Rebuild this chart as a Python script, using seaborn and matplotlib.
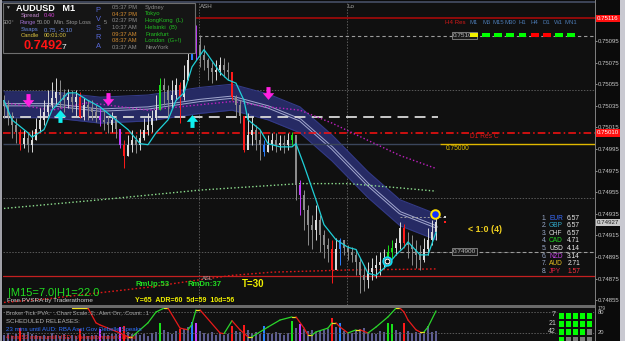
import numpy as np
import pandas as pd
import matplotlib
matplotlib.use("Agg")
import matplotlib.pyplot as plt
import matplotlib.transforms as mtransforms
from matplotlib.patches import Rectangle
from matplotlib.path import Path
from matplotlib.colors import ListedColormap
import seaborn as sns

# ---------------- data ----------------
high = [0.75045, 0.75040, 0.75029, 0.75024, 0.75014, 0.75013, 0.75011, 0.75013, 0.75024, 0.75033,
        0.75040, 0.75050, 0.75057, 0.75061, 0.75059, 0.75051, 0.75051, 0.75050, 0.75050, 0.75048,
        0.75042, 0.75040, 0.75040, 0.75036, 0.75033, 0.75031, 0.75026, 0.75029, 0.75026, 0.75014,
        0.75003, 0.75008, 0.75013, 0.75008, 0.75014, 0.75024, 0.75028, 0.75031, 0.75045, 0.75061,
        0.75061, 0.75054, 0.75059, 0.75061, 0.75057, 0.75073, 0.75091, 0.75114, 0.75110, 0.75101,
        0.75091, 0.75079, 0.75076, 0.75077, 0.75080, 0.75079, 0.75076, 0.75064, 0.75045, 0.75040,
        0.75022, 0.75028, 0.75026, 0.75017, 0.75013, 0.75003, 0.75008, 0.75010, 0.75010, 0.75008,
        0.75008, 0.75010, 0.75011, 0.75003, 0.74966, 0.74957, 0.74943, 0.74934, 0.74943, 0.74934,
        0.74920, 0.74913, 0.74911, 0.74913, 0.74913, 0.74911, 0.74906, 0.74904, 0.74902, 0.74894,
        0.74888, 0.74890, 0.74894, 0.74897, 0.74900, 0.74902, 0.74906, 0.74911, 0.74913, 0.74927,
        0.74926, 0.74918, 0.74915, 0.74911, 0.74906, 0.74913, 0.74922, 0.74929, 0.74932]
low = [0.75024, 0.75017, 0.75005, 0.75001, 0.74994, 0.74996, 0.74992, 0.74992, 0.75003, 0.75011,
       0.75017, 0.75026, 0.75033, 0.75037, 0.75033, 0.75029, 0.75033, 0.75029, 0.75026, 0.75024,
       0.75022, 0.75022, 0.75022, 0.75020, 0.75016, 0.75013, 0.75010, 0.75011, 0.75005, 0.74996,
       0.74977, 0.74989, 0.74992, 0.74991, 0.74994, 0.75003, 0.75008, 0.75011, 0.75022, 0.75031,
       0.75036, 0.75026, 0.75033, 0.75040, 0.75019, 0.75040, 0.75059, 0.75087, 0.75077, 0.75071,
       0.75068, 0.75059, 0.75056, 0.75059, 0.75064, 0.75062, 0.75059, 0.75040, 0.75026, 0.75019,
       0.74992, 0.74999, 0.74999, 0.74994, 0.74985, 0.74989, 0.74992, 0.74994, 0.74992, 0.74994,
       0.74991, 0.74994, 0.74999, 0.74948, 0.74934, 0.74920, 0.74906, 0.74902, 0.74911, 0.74900,
       0.74894, 0.74890, 0.74871, 0.74885, 0.74888, 0.74897, 0.74892, 0.74890, 0.74878, 0.74862,
       0.74864, 0.74866, 0.74874, 0.74876, 0.74878, 0.74885, 0.74890, 0.74894, 0.74897, 0.74902,
       0.74903, 0.74894, 0.74888, 0.74885, 0.74883, 0.74890, 0.74897, 0.74906, 0.74911]
close = [0.75036, 0.75026, 0.75017, 0.75011, 0.75000, 0.75005, 0.74999, 0.75003, 0.75014, 0.75022,
         0.75029, 0.75036, 0.75042, 0.75048, 0.75045, 0.75040, 0.75043, 0.75039, 0.75043, 0.75025,
         0.75036, 0.75033, 0.75029, 0.75026, 0.75022, 0.75020, 0.75017, 0.75022, 0.75014, 0.74999,
         0.74989, 0.74999, 0.75003, 0.74999, 0.75005, 0.75013, 0.75017, 0.75024, 0.75031, 0.75054,
         0.75050, 0.75040, 0.75045, 0.75054, 0.75043, 0.75059, 0.75077, 0.75101, 0.75091, 0.75082,
         0.75077, 0.75070, 0.75066, 0.75068, 0.75073, 0.75068, 0.75066, 0.75043, 0.75036, 0.75026,
         0.74994, 0.75008, 0.75013, 0.75003, 0.74999, 0.74992, 0.74999, 0.75003, 0.74999, 0.75001,
         0.74999, 0.75003, 0.75008, 0.74962, 0.74952, 0.74939, 0.74925, 0.74920, 0.74929, 0.74915,
         0.74906, 0.74902, 0.74883, 0.74902, 0.74911, 0.74903, 0.74900, 0.74897, 0.74890, 0.74878,
         0.74874, 0.74881, 0.74885, 0.74888, 0.74890, 0.74894, 0.74900, 0.74903, 0.74908, 0.74922,
         0.74908, 0.74906, 0.74902, 0.74897, 0.74892, 0.74902, 0.74911, 0.74918, 0.74927]
first_open = 0.75040

special_idx = [4, 19, 24, 29, 30, 39, 44, 47, 48, 57, 60, 65, 72, 74, 82, 84, 96, 97, 100]
special_kind = ["red", "red", "magenta", "magenta", "red", "green", "red", "blue", "magenta", "red",
                "red", "blue", "green", "magenta", "red", "blue", "green", "green", "red"]

volume = [40, 55, 35, 45, 85, 50, 60, 45, 38, 30,
          42, 35, 50, 38, 30, 45, 28, 40, 35, 80,
          45, 30, 38, 42, 75, 50, 36, 44, 48, 90,
          95, 60, 45, 52, 40, 48, 35, 55, 60, 120,
          70, 58, 45, 62, 80, 75, 90, 125, 120, 65,
          55, 48, 60, 42, 50, 38, 45, 100, 62, 58,
          105, 70, 55, 60, 48, 95, 52, 45, 58, 50,
          42, 55, 130, 85, 110, 75, 62, 70, 58, 65,
          72, 80, 150, 90, 120, 68, 60, 55, 70, 75,
          82, 60, 55, 48, 62, 58, 118, 110, 70, 60,
          118, 65, 55, 60, 50, 48, 95, 58, 62]

fast_ma_idx = [0, 2, 6, 7, 10, 12, 16, 18, 21, 24, 27, 31, 34, 36, 38, 41, 43, 45, 47, 50, 51, 54, 56,
               58, 60, 61, 64, 66, 69, 72, 73, 75, 78, 80, 83, 86, 88, 91, 93, 96, 98, 100, 101, 104, 106, 108]
fast_ma = [0.75040, 0.75022, 0.75010, 0.75006, 0.75013, 0.75031, 0.75047, 0.75047, 0.75040, 0.75034,
           0.75025, 0.75013, 0.75000, 0.74999, 0.75010, 0.75022, 0.75040, 0.75047, 0.75071, 0.75087,
           0.75082, 0.75066, 0.75059, 0.75056, 0.75040, 0.75022, 0.75013, 0.75000, 0.74997, 0.74997,
           0.75000, 0.74980, 0.74948, 0.74925, 0.74911, 0.74904, 0.74902, 0.74880, 0.74878, 0.74888,
           0.74897, 0.74904, 0.74909, 0.74897, 0.74897, 0.74918]

band_idx = [0, 12, 24, 36, 49, 57, 66, 74, 82, 91, 99, 108]
band_mid = [0.75036, 0.75036, 0.75031, 0.75033, 0.75040, 0.75043, 0.75034, 0.75022, 0.74996, 0.74962, 0.74936, 0.74923]
band_upper = [0.75048, 0.75048, 0.75043, 0.75045, 0.75052, 0.75055, 0.75046, 0.75034, 0.75008, 0.74974, 0.74948, 0.74935]
band_lower = [0.75024, 0.75024, 0.75019, 0.75021, 0.75028, 0.75031, 0.75022, 0.75010, 0.74984, 0.74950, 0.74924, 0.74911]

slow_ma_idx = [0, 12, 21, 36, 49, 57, 66, 74, 82, 91, 99, 108]
slow_ma = [0.75038, 0.75031, 0.75038, 0.75031, 0.75036, 0.75039, 0.75034, 0.75031, 0.75019, 0.75003, 0.74989, 0.74977]
trend_ma_idx = [0, 24, 49, 74, 86, 99, 108]
trend_ma = [0.74940, 0.74948, 0.74957, 0.74963, 0.74963, 0.74959, 0.74956]
asl_idx = [0, 10, 24, 36, 49, 57, 67, 86, 108]
asl_line = [0.74853, 0.74856, 0.74862, 0.74867, 0.74874, 0.74878, 0.74881, 0.74883, 0.74884]

osc_idx = [17, 21, 23, 24, 29, 31, 32, 36, 38, 40, 41, 44, 46, 47, 48, 49, 54, 55, 57, 59, 61, 62,
           66, 69, 72, 73, 75, 76, 77, 78, 81, 82, 83, 84, 86, 88, 89, 91, 93, 96, 98, 99, 100, 101,
           103, 104, 105, 106, 108]
osc_val = [91, 91, 49, 43, 20, 9, 9, 49, 80, 91, 91, 34, 29, 45, 86, 86, 20, 18, 55, 29, 9, 9,
           37, 57, 66, 66, 34, 14, 14, 23, 34, 49, 49, 37, 20, 29, 29, 20, 37, 66, 91, 91, 80, 57,
           29, 23, 23, 37, 83]

h4_res = 0.75116
round_hi = 0.75100
mid_dash = 0.75025
d1_res = 0.75010
round_mid = 0.75000
round_lo = 0.74900
support_line = 0.74877
last_high = 0.74932
bid = 0.74927
price_ticks = [0.75095, 0.75075, 0.75055, 0.75035, 0.75015, 0.74995, 0.74975, 0.74955,
               0.74935, 0.74915, 0.74895, 0.74875, 0.74855]
grid_prices = [0.75050, 0.74950]
session_idx = [48.75, 85.75]

down_arrow_idx = [6, 26, 66]
down_arrow_price = [0.75040, 0.75041, 0.75047]
up_arrow_idx = [14, 47]
up_arrow_price = [0.75026, 0.75021]
hi_dot = (107.75, 0.74935)
lo_dot = (95.75, 0.74891)

tf_labels = ["M1", "M5", "M15", "M30", "H1", "H4", "D1", "W1", "MN1"]
tf_state = ["flat", "up", "up", "up", "up", "down", "down", "up", "up"]
currencies = ["EUR", "GBP", "CHF", "CAD", "USD", "NZD", "AUD", "JPY"]
strength = [6.57, 6.57, 6.57, 4.71, 4.14, 3.14, 2.71, 1.57]
session_times = ["05:37 PM", "04:37 PM", "02:37 PM", "10:37 AM", "09:37 AM", "08:37 AM", "03:37 AM"]
session_cities = ["Sydney", "Tokyo", "HongKong  (L)", "Helsinki  (B)", "Frankfurt", "London  (G+!)", "NewYork"]
session_open = [False, True, True, True, True, True, False]
pva_periods = ["7", "21", "42"]
pva_grid = [[1, 1, 1, 1, 1], [1, 1, 1, 1, 1], [1, 1, 1, 1, 0], [1, 0, 0, 0, 0]]

# ---------------- styling ----------------
W, H = 625, 341
BG = "#101010"
KIND_COL = {"red": "#ff1a1a", "green": "#19e019", "blue": "#2a7fff", "magenta": "#c23cff"}

sns.set_theme(style="dark", rc={"axes.facecolor": BG, "figure.facecolor": "#0b0b0b"})
plt.rcParams["font.family"] = ["Liberation Sans", "DejaVu Sans"]

fig = plt.figure(figsize=(W / 100, H / 100), dpi=100, facecolor="#0b0b0b")


def T(x, y, s, color, size, weight="normal", ha="left", **kw):
    fig.text(x / W, 1 - y / H, s, color=color, fontsize=size, fontweight=weight,
             ha=ha, va="center", zorder=8, **kw)


def frect(x0, y0, x1, y1, fc, ec="none", lw=0, z=4):
    fig.add_artist(Rectangle((x0 / W, 1 - y1 / H), (x1 - x0) / W, (y1 - y0) / H,
                             transform=fig.transFigure, facecolor=fc, edgecolor=ec, lw=lw, zorder=z))


XL = (-0.25, 147.75)

# ---------------- main price panel ----------------
ax = fig.add_axes([3 / W, 1 - 305 / H, 592 / W, 302 / H])
ax.set_facecolor(BG)
ax.set_xlim(*XL)
ax.set_ylim(0.748506, 0.751302)
for s in ax.spines.values():
    s.set_visible(False)

n = len(close)
df = pd.DataFrame({"i": np.arange(n), "high": high, "low": low, "close": close,
                   "open": [first_open] + close[:-1]})
df["kind"] = "norm"
df.loc[special_idx, "kind"] = special_kind
df["col"] = np.where(df["close"] >= df["open"], "#dcdcdc", "#8c8c8c")
for k, c in KIND_COL.items():
    df.loc[df["kind"] == k, "col"] = c

# grid / session lines
for gp in grid_prices + [round_lo]:
    ax.axhline(gp, color="#5a5a5a", lw=0.7, ls=(0, (1.5, 1.5)), zorder=1)
for si in session_idx:
    ax.axvline(si, color="#5a5a5a", lw=0.7, ls=(0, (1.5, 1.5)), zorder=1)

# band
ax.fill_between(band_idx, band_lower, band_upper, color="#262a64", lw=0, zorder=2)
ax.plot(band_idx, band_upper, color="#333a86", lw=0.8, zorder=2)
ax.plot(band_idx, band_lower, color="#333a86", lw=0.8, zorder=2)
ax.plot(band_idx, band_mid, color="#a3a8cf", lw=2.3, zorder=2.1)
ax.plot(band_idx, band_mid, color="#262a64", lw=0.9, zorder=2.2)

# horizontal levels
ax.axhline(h4_res, color="#9a0a0a", lw=1.3, zorder=3)
ax.axhline(round_hi, color="#9c9c9c", lw=0.8, ls=(0, (3, 2.5)), zorder=3)
ax.hlines(mid_dash, XL[0], 108.5, color="#d8d8d8", lw=1.3, ls=(0, (6, 3.5)), zorder=3)
ax.axhline(d1_res, color="#ff1010", lw=1.1, ls=(0, (5, 2, 1, 2)), zorder=3)
ax.hlines(round_mid, XL[0], 109, color="#3b465c", lw=1.0, zorder=3)
ax.hlines(round_mid, 109, XL[1], color="#e0b800", lw=1.0, zorder=3)
ax.axhline(support_line, color="#c42020", lw=0.9, zorder=3)
ax.hlines(round_lo, 99, XL[1], color="#9c9c9c", lw=0.8, ls=(0, (3, 2.5)), zorder=3)
ax.hlines(last_high, 99, 110.25, color="#9c9c9c", lw=0.7, ls=(0, (2, 2)), zorder=3)

sns.lineplot(x=slow_ma_idx, y=slow_ma, ax=ax, color="#c020c0", lw=1.0, ls=(0, (1, 1.6)), zorder=3,
             estimator=None, sort=False)
sns.lineplot(x=trend_ma_idx, y=trend_ma, ax=ax, color="#8fe08f", lw=1.0, ls=(0, (1, 1.6)), zorder=3,
             estimator=None, sort=False)
sns.lineplot(x=asl_idx, y=asl_line, ax=ax, color="#e01818", lw=1.0, ls=(0, (1.2, 1.6)), zorder=3,
             estimator=None, sort=False)

# candles
ax.vlines(df["i"], df["low"], df["high"], colors=df["col"], lw=0.7, zorder=4)
body_lo = np.minimum(df["open"], df["close"])
body_h = np.maximum((df["close"] - df["open"]).abs(), 0.000012)
ax.bar(df["i"], body_h, bottom=body_lo, width=0.45, color=df["col"], lw=0, zorder=4)

sns.lineplot(x=fast_ma_idx, y=fast_ma, ax=ax, color="#1fd0d8", lw=0.9, zorder=5,
             estimator=None, sort=False)

# arrows
arrow_down = Path([(-0.32, 1), (0.32, 1), (0.32, 0.05), (0.9, 0.05), (0, -1), (-0.9, 0.05),
                   (-0.32, 0.05), (-0.32, 1)], closed=True)
arrow_up = Path([(x, -y) for x, y in arrow_down.vertices], closed=True)
ax.scatter(down_arrow_idx, down_arrow_price, marker=arrow_down, s=85, color="#ff20e0", lw=0, zorder=6)
ax.scatter(up_arrow_idx, up_arrow_price, marker=arrow_up, s=85, color="#10f0f0", lw=0, zorder=6)

ax.scatter([hi_dot[0]], [hi_dot[1]], s=38, color="#1030ff", edgecolor="#ffe000", lw=1.4, zorder=7)
ax.scatter([lo_dot[0]], [lo_dot[1]], s=36, color="#0a0a0a", edgecolor="#10d8f0", lw=1.4, zorder=7)
ax.scatter([lo_dot[0]], [lo_dot[1]], s=12, color="#0a0a0a", edgecolor="#ffffff", lw=0.8, zorder=7)
ax.scatter([110.25], [last_high], marker="s", s=3, color="#d0d0d0", lw=0, zorder=7)
ax.scatter([110.25], [bid], marker="s", s=3, color="#ff2020", lw=0, zorder=7)

# right price scale
ax.yaxis.tick_right()
ax.set_yticks(price_ticks)
ax.set_yticklabels([f"{p:.5f}" for p in price_ticks], color="#c8c8c8", fontsize=4.3)
ax.tick_params(axis="y", right=True, left=False, length=1.5, width=0.6, color="#a0a0a0", pad=0.6)
ax.set_xticks([])
ax.grid(False)

blend = mtransforms.blended_transform_factory(ax.transAxes, ax.transData)
for p, fc, tc in [(h4_res, "#ff1010", "#ffffff"), (d1_res, "#ff1010", "#ffffff"), (bid, "#c8c8c8", "#202020")]:
    ax.text(1.0035, p, f"{p:.5f}", transform=blend, color=tc, fontsize=4.4, va="center", ha="left",
            bbox=dict(facecolor=fc, edgecolor="none", pad=0.9), clip_on=False, zorder=9)

for p, lbl in [(round_hi, "0.75100"), (round_lo, "0.74900")]:
    ax.text(112.2, p, lbl, color="#b8b8b8", fontsize=4.6, va="center", ha="left",
            bbox=dict(facecolor="#1a1a1a", edgecolor="#8a8a8a", pad=0.8, lw=0.6), zorder=8)

# ---------------- lower PVA panel ----------------
ax2 = fig.add_axes([3 / W, 0, 592 / W, 33 / H])
ax2.set_facecolor(BG)
ax2.set_xlim(*XL)
ax2.set_ylim(0, 215)
vcol = ["#5d5d92"] * n
for k, c in zip(special_idx, special_kind):
    vcol[k] = KIND_COL[c]
ax2.bar(np.arange(n), volume, width=0.4, color=vcol, lw=0)
for s in ax2.spines.values():
    s.set_visible(False)
ax2.set_xticks([])
ax2.set_yticks([])

ax3 = ax2.twinx()
ax3.set_ylim(-2.9, 91.4)
ax3.set_xlim(*XL)
ax3.patch.set_visible(False)
for s in ax3.spines.values():
    s.set_visible(False)
ax3.set_yticks([])
for lv in (80, 20):
    ax3.axhline(lv, color="#5a5a5a", lw=0.7, ls=(0, (1.5, 1.5)))
for a, b, va, vb in zip(osc_idx[:-1], osc_idx[1:], osc_val[:-1], osc_val[1:]):
    c = "#2bd62b" if vb > va else ("#e81a1a" if vb < va else "#f0e020")
    ax3.plot([a, b], [va, vb], color=c, lw=0.9)

# ---------------- decorations ----------------
frect(0, 305, 595, 308, "#6a6a6a")
frect(595, 0, 596, 341, "#7c7c7c")
frect(620, 0, 625, 341, "#c9c9d1")
frect(0, 0, 2, 341, "#a0a0a8")
frect(2, 1, 595, 3, "#3c4356")

# info panel
frect(3, 3, 195, 53, "#151515", ec="#6e6e6e", lw=0.8, z=5)
T(5, 7.5, "\u25bc", "#a0a0a0", 3.5)
T(16, 8.5, "AUDUSD   M1", "#ffffff", 6.6, "bold")
T(21, 15.5, "Spread", "#c68ad0", 4.2)
T(44, 15.5, "0.40", "#d040d0", 4.2)
T(3, 22.5, "300\u00b0", "#9a9a9a", 4.0)
T(20, 22.5, "Range", "#a070d0", 4.0)
T(37, 22.5, "50.00", "#9a9a9a", 4.0)
T(54, 22.5, "Min. Stop Loss", "#9a9a9a", 4.0)
T(104, 22.5, "5", "#9a9a9a", 4.0)
T(21, 29.5, "Swaps", "#6a8ae0", 4.2)
T(44, 29.5, "0.75, -5.10", "#6a8ae0", 4.2)
T(21, 35.5, "Candle", "#d8c040", 4.2)
T(44, 35.5, "00:01:00", "#d8c040", 4.2)
T(23, 46, "0.7492", "#ff1414", 9.2, "bold")
T(62, 47.5, "7", "#ffffff", 6)
for k, ch in enumerate("PVSRA"):
    T(98, 10 + 9.2 * k, ch, "#5868d8", 5.4, ha="center")
for k, (tm, city, op) in enumerate(zip(session_times, session_cities, session_open)):
    y = 7.3 + 6.7 * k
    T(112, y, tm, "#d08a30" if k in (1, 4, 5) else "#8c8c8c", 4.2)
    T(145, y, city, "#22c022" if op else "#8c8c8c", 4.2)

T(200, 7, "ASH", "#a8a8a8", 4.5)
T(347, 6.5, "Lo", "#a8a8a8", 4.5)
T(202, 278.5, "ASL", "#a8a8a8", 4.2)

# level texts
T(445, 22.5, "H4 Res", "#d01818", 4.4)
T(470, 136.5, "D1 Res C", "#e01818", 4.8)
T(446, 148, "0.75000", "#e0c000", 4.8)
T(468, 229, "< 1:0 (4)", "#f0d020", 6.4, "bold")

# timeframe signal boxes
STATE_COL = {"flat": "#f0f000", "up": "#00ff00", "down": "#ff0000"}
axtf = fig.add_axes([468 / W, 1 - 36.5 / H, 109 / W, 3.5 / H])
axtf.bar(range(len(tf_state)), [1] * len(tf_state), width=0.66,
         color=[STATE_COL[s] for s in tf_state], lw=0)
axtf.set_xlim(-0.5, len(tf_state) - 0.5)
axtf.set_ylim(0, 1)
axtf.axis("off")
for k, lbl in enumerate(tf_labels):
    axtf.text(k, 4.1, lbl, color="#4a78b0", fontsize=4.3, ha="center", va="center", clip_on=False)

# currency strength table
CUR_COL = ["#3a6cff", "#30a8c8", "#d0d0d0", "#20d020", "#f0f0f0", "#c040e0", "#e8c020", "#e02040"]
for k, (c, v, cc) in enumerate(zip(currencies, strength, CUR_COL)):
    y = 218 + 7.6 * k
    T(542, y, f"{k + 1}.", "#98a8c8", 4.8)
    T(549, y, c, cc, 4.8)
    T(580, y, f"{v:.2f}", "#ff3040" if c == "JPY" else "#ececec", 4.8, ha="right")

# bottom texts
T(8, 293, "|M15=7.0|H1=22.0", "#22dd22", 8)
T(7, 300.5, "Free PVSRA by Traderathome", "#d0d0d0", 4.6)
T(135, 284, "RmUp:53", "#22dd22", 5.6, "bold")
T(187, 284, "RmDn:37", "#22dd22", 5.6, "bold")
T(242, 284, "T=30", "#f0f000", 7, "bold")
T(135, 301, "Y=65  ADR=60  5d=59  10d=56", "#f0f000", 5.0, "bold")

T(6, 312.5, "Broker Tick PVA:  ..Chart Scale..2,..Alert On,..Count...1", "#a0a0a0", 4.2)
T(6, 321.5, "SCHEDULED RELEASES:", "#b4b4b4", 4.4)
T(6, 330, "23 mins until AUD: RBA Asst Gov Debelle Speaks", "#2f70ff", 4.4)
T(6, 337.5, "4 hrs 53 mins until USD: Unemployment Claims", "#ff2020", 4.4)

T(598, 309, "179", "#c0c0c0", 3.4)
T(598, 313, "80", "#c0c0c0", 4.2)
T(598, 333, "20", "#c0c0c0", 4.2)

for k, lbl in enumerate(pva_periods):
    T(556, 315 + 8.2 * k, lbl, "#c8c8c8", 5, ha="right")
axg = fig.add_axes([558 / W, 1 - 344 / H, 35 / W, 32 / H])
sns.heatmap(pva_grid, ax=axg, cmap=ListedColormap(["#7a7a7a", "#00ff00"]), vmin=0, vmax=1,
            cbar=False, linewidths=1.1, linecolor=BG, xticklabels=False, yticklabels=False)

fig.savefig("out.png", dpi=100, facecolor=fig.get_facecolor())
